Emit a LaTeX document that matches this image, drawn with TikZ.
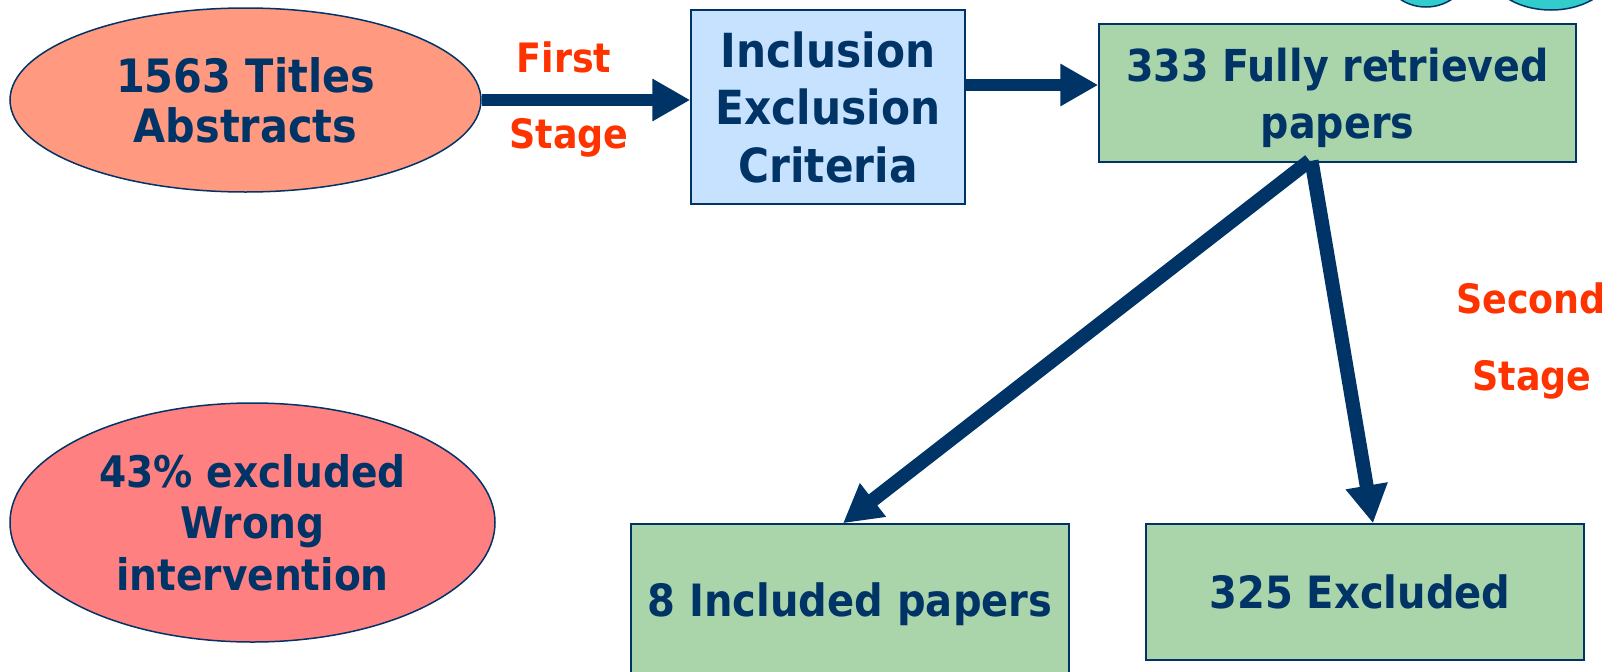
\documentclass[tikz,border=0pt]{standalone}
\usepackage{fontspec}
\setmainfont{DejaVu Sans}[FakeStretch=0.9]
\usetikzlibrary{shapes.geometric,arrows.meta,calc}
\definecolor{navy}{HTML}{003366}
\definecolor{stagered}{HTML}{FF3300}
\definecolor{salmon}{HTML}{FF9980}
\definecolor{rosered}{HTML}{FF8080}
\definecolor{lightblue}{HTML}{C6E2FF}
\definecolor{palegreen}{HTML}{AAD5AA}
\definecolor{teal}{HTML}{33CCCC}
\begin{document}
\begin{tikzpicture}[x=1pt,y=-1pt,
  every node/.style={text=navy},
  box/.style={draw=navy, line width=1.5pt, rectangle, inner sep=0pt, align=center},
  oval/.style={draw=navy, line width=1.5pt, ellipse, inner sep=0pt, align=center},
  flow/.style={draw=navy, line width=12.5pt, -{Triangle[length=38pt,width=40pt]}},
  stagelabel/.style={text=stagered, anchor=base, inner sep=0pt, font=\bfseries\fontsize{40.5}{48}\selectfont}
]
\useasboundingbox (0,0) rectangle (1623,672);

% cut-off shapes at the top right
\begin{scope}
  \clip (0,0) rectangle (1623,672);
  \draw[draw=navy, line width=1.5pt, fill=teal] (1426,-30) ellipse [x radius=42, y radius=37];
  \draw[draw=navy, line width=1.5pt, fill=teal] (1551,-35) ellipse [x radius=65, y radius=45];
\end{scope}

\node[oval, fill=salmon, minimum width=471pt, minimum height=184pt,
      font=\bfseries\fontsize{46}{50}\selectfont] (titles) at (245.5,100) {1563 Titles\\Abstracts};
\node[box, fill=lightblue, minimum width=274pt, minimum height=194pt,
      font=\bfseries\fontsize{47}{57.5}\selectfont] (incl) at (828,107) {Inclusion\\Exclusion\\Criteria};
\node[box, fill=palegreen, minimum width=477pt, minimum height=138pt, text depth=0pt,
      font=\bfseries\fontsize{44}{57}\selectfont] (retr) at (1337.5,93) {333 Fully retrieved\\papers};
\node[box, fill=palegreen, minimum width=438pt, minimum height=152pt, text depth=0pt,
      font=\bfseries\fontsize{44.5}{53}\selectfont] (included) at (850,600) {8 Included papers};
\node[box, fill=palegreen, minimum width=438pt, minimum height=136pt, text depth=0pt,
      font=\bfseries\fontsize{44.5}{53}\selectfont] (excluded) at (1365,592) {325 Excluded\hspace*{10pt}};
\node[oval, fill=rosered, minimum width=485pt, minimum height=239pt,
      font=\bfseries\fontsize{43.5}{51.5}\selectfont] (wrong) at (252.5,522.5) {43\% excluded\\Wrong\\intervention};

\node[stagelabel] (first) at (564,72) {First};
\node[stagelabel] (stage1) at (569,148) {Stage};
\node[stagelabel] (second) at (1531,313) {Second};
\node[stagelabel] (stage2) at (1532,390) {Stage};

\draw[flow] (titles.east) -- (titles.east -| incl.west);
\draw[flow] ($(incl.east)+(0,-22)$) -- ($(incl.east -| retr.west)+(0,-22)$);
\draw[flow, line width=14pt] ($(retr.south)+(-28,-2)$) -- ($(included.north)+(-7,0)$);
\draw[flow, line width=14pt] ($(retr.south)+(-26,-2)$) -- ($(excluded.north)+(8,0)$);
\end{tikzpicture}
\end{document}
